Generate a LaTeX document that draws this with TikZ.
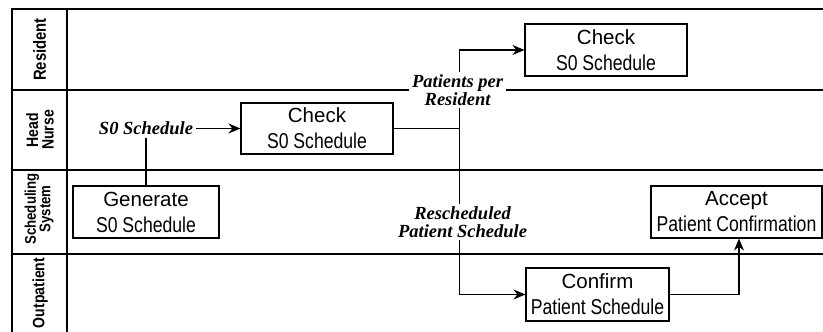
\documentclass[tikz,border=0pt]{standalone}
\usepackage{fontspec}
\setmainfont{Liberation Serif}
\newfontfamily\boxfont{Liberation Sans}
\newfontfamily\narrowfont[FakeStretch=0.82]{Liberation Sans}
\newfontfamily\headfont[FakeStretch=0.85]{Liberation Sans}
\usetikzlibrary{arrows.meta}
\newcommand\twoline[2]{#1\\{\narrowfont\fontsize{21.5}{26}\selectfont #2}}
\begin{document}
\begin{tikzpicture}[x=1pt,y=-1pt,line width=1.1pt,
  laneline/.style={line width=1.1pt},
  stepbox/.style={draw, line width=1.1pt, inner sep=0pt, align=center,
     font=\boxfont\fontsize{20.5}{26}\selectfont},
  flowlabel/.style={fill=white, inner sep=3pt, align=center,
     font=\fontsize{18.5}{17.5}\selectfont\bfseries\itshape},
  lanehead/.style={rotate=90, align=center, inner sep=0pt,
     font=\headfont\bfseries\fontsize{16.5}{15.5}\selectfont},
  flow/.style={-{Stealth[length=12pt,width=10pt,inset=4pt]}, line width=1.1pt}]
\useasboundingbox (0,0) rectangle (823,332);

% pool and lanes
\draw[laneline] (12,332) -- (12,9) -- (823,9);
\draw[laneline] (67,9) -- (67,332);
\draw[laneline] (12,90) -- (823,90);
\draw[laneline] (12,170) -- (823,170);
\draw[laneline] (12,254) -- (823,254);

% lane headers
\node[lanehead, font=\headfont\bfseries\fontsize{17.5}{16}\selectfont] (hres) at (39.5,49.5) {Resident};
\node[lanehead] (hhn) at (40,130) {Head\\Nurse};
\node[lanehead, font=\headfont\bfseries\fontsize{15.5}{14.5}\selectfont] (hss) at (39,209) {Scheduling\\System};
\node[lanehead] (hout) at (40,293) {Outpatient};

% steps
\node[stepbox, minimum width=162pt, minimum height=52pt] (rcheck) at (606,50) {\twoline{Check}{S0 Schedule}};
\node[stepbox, minimum width=152pt, minimum height=51pt] (hncheck) at (317,128.5) {\twoline{Check}{S0 Schedule}};
\node[stepbox, minimum width=146pt, minimum height=52pt] (gen) at (146,212) {\twoline{Generate}{S0 Schedule}};
\node[stepbox, minimum width=171pt, minimum height=52pt] (acc) at (736.5,212) {\twoline{Accept}{Patient Confirmation}};
\node[stepbox, minimum width=143pt, minimum height=53pt] (conf) at (597.5,294.5) {\twoline{Confirm}{Patient Schedule}};

% connectors
\coordinate (c1) at (gen.north |- hncheck.west);
\draw[flow] (gen.north) -- (c1) -- (hncheck.west);

\path (hncheck.east) ++(66,0) coordinate (j);
\draw[laneline] (hncheck.east) -- (j);
\draw[flow] (j) |- (rcheck.west);
\draw[flow] (j) |- (conf.west);

\draw[flow] (conf.east) -| ([xshift=2.5pt]acc.south);

% labels
\coordinate (d1) at (0,90);
\coordinate (d3) at (0,222);
\node[flowlabel] (l1) at (c1) {S0 Schedule};
\node[flowlabel, xshift=-2pt] (l2) at (j |- d1) {Patients per\\Resident};
\node[flowlabel, xshift=3pt] (l3) at (j |- d3) {Rescheduled\\Patient Schedule};
\end{tikzpicture}
\end{document}
